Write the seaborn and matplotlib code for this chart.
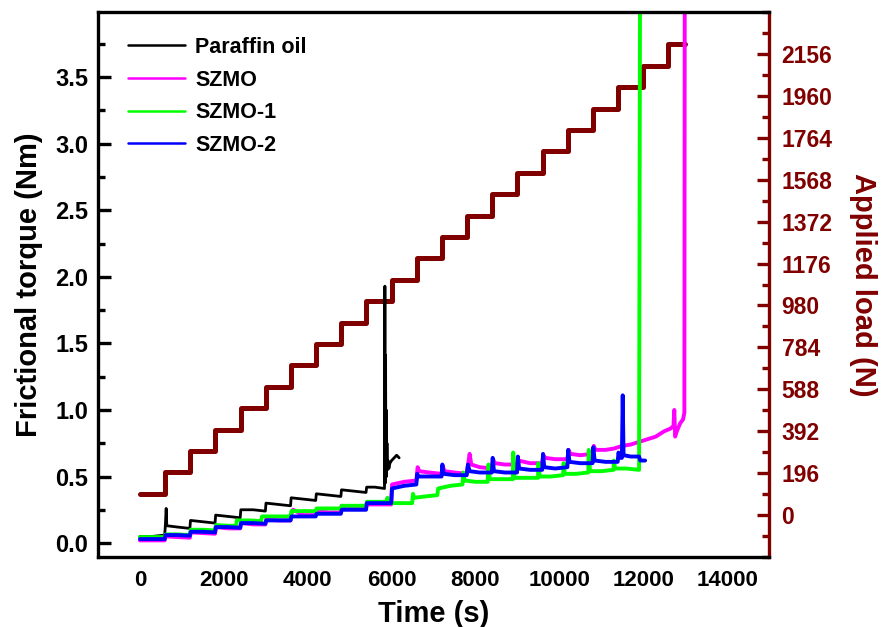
import matplotlib
matplotlib.use("Agg")
import matplotlib.pyplot as plt
import seaborn as sns
import pandas as pd
from matplotlib.ticker import MultipleLocator

sns.set_theme(style="white")
plt.rcParams["font.family"] = ["Liberation Sans", "DejaVu Sans"]
plt.rcParams["font.weight"] = "bold"
plt.rcParams["text.color"] = "black"
plt.rcParams["axes.labelcolor"] = "black"
plt.rcParams["xtick.color"] = "black"
plt.rcParams["ytick.color"] = "black"

# ---- frictional torque traces (time in s, torque in Nm) ----
paraffin_t = [0, 300, 590, 605, 625, 640, 900, 1190, 1205, 1500, 1790, 1805, 2100,
              2390, 2405, 2700, 2990, 3005, 3300, 3590, 3605, 3900, 4190, 4205, 4500,
              4790, 4805, 5100, 5390, 5405, 5600, 5830, 5840, 5848, 5856, 5864, 5872,
              5880, 5890, 5900, 5915, 5935, 5960, 6000, 6060, 6120, 6180]
paraffin_v = [0.05, 0.05, 0.06, 0.13, 0.26, 0.13, 0.12, 0.11, 0.17, 0.16, 0.15, 0.21, 0.20,
              0.19, 0.25, 0.25, 0.24, 0.30, 0.29, 0.28, 0.34, 0.33, 0.32, 0.37, 0.36,
              0.35, 0.40, 0.39, 0.38, 0.42, 0.42, 0.41, 1.93, 0.45, 1.41, 0.55, 1.00,
              0.50, 0.75, 0.55, 0.62, 0.56, 0.60, 0.62, 0.64, 0.66, 0.64]

szmo_t = [0, 300, 590, 610, 900, 1190, 1210, 1500, 1790, 1810, 2100, 2390, 2410, 2700,
          2990, 3010, 3300, 3590, 3610, 3650, 3900, 4190, 4210, 4500, 4790, 4810, 5100,
          5390, 5410, 5700, 5990, 6010, 6300, 6590, 6620, 6660, 6900, 7190, 7220, 7260,
          7500, 7790, 7860, 7900, 8100, 8390, 8420, 8460, 8700, 8990, 9020, 9300, 9590,
          9620, 9660, 9900, 10190, 10220, 10260, 10500, 10790, 10820, 10860, 11100,
          11300, 11500, 11700, 11900, 12100, 12300, 12500, 12650, 12720, 12740, 12760,
          12800, 12880, 12950, 12980, 12990]
szmo_v = [0.02, 0.02, 0.02, 0.05, 0.045, 0.04, 0.08, 0.075, 0.07, 0.12, 0.11, 0.11, 0.15, 0.14,
          0.14, 0.18, 0.17, 0.17, 0.22, 0.25, 0.21, 0.21, 0.24, 0.23, 0.23, 0.28, 0.27,
          0.27, 0.29, 0.29, 0.29, 0.44, 0.46, 0.47, 0.57, 0.54, 0.53, 0.52, 0.58, 0.54,
          0.53, 0.52, 0.67, 0.59, 0.57, 0.56, 0.63, 0.60, 0.59, 0.59, 0.62, 0.60, 0.60,
          0.66, 0.64, 0.63, 0.63, 0.70, 0.67, 0.66, 0.67, 0.73, 0.70, 0.70,
          0.71, 0.73, 0.74, 0.76, 0.78, 0.80, 0.84, 0.86, 0.88, 1.00, 0.80,
          0.84, 0.90, 0.93, 0.98, 4.50]

szmo1_t = [0, 300, 590, 610, 900, 1190, 1210, 1500, 1790, 1810, 2100, 2290, 2310, 2600,
           2890, 2910, 3300, 3590, 3610, 3900, 4190, 4210, 4500, 4790, 4810, 5100, 5390,
           5410, 5700, 5880, 5900, 5940, 6200, 6490, 6510, 6540, 6800, 7090, 7110, 7400,
           7690, 7710, 7740, 8000, 8290, 8310, 8340, 8600, 8890, 8900, 8930, 9200, 9490,
           9500, 9530, 9800, 10090, 10100, 10130, 10400, 10690, 10700, 10730, 11000,
           11290, 11300, 11330, 11600, 11900, 11925]
szmo1_v = [0.045, 0.045, 0.045, 0.065, 0.065, 0.06, 0.10, 0.10, 0.095, 0.135, 0.13, 0.13, 0.17, 0.17,
           0.165, 0.20, 0.20, 0.20, 0.24, 0.24, 0.24, 0.26, 0.26, 0.26, 0.28, 0.28, 0.28,
           0.31, 0.31, 0.31, 0.34, 0.30, 0.30, 0.30, 0.37, 0.34, 0.35, 0.36, 0.41, 0.43,
           0.44, 0.53, 0.47, 0.46, 0.46, 0.59, 0.48, 0.48, 0.48, 0.68, 0.49, 0.49, 0.49,
           0.60, 0.50, 0.50, 0.51, 0.60, 0.52, 0.52, 0.53, 0.70, 0.54, 0.54,
           0.55, 0.62, 0.56, 0.56, 0.55, 4.50]

szmo2_t = [0, 300, 590, 610, 900, 1190, 1210, 1500, 1790, 1810, 2100, 2390, 2410, 2700,
           2990, 3010, 3300, 3590, 3610, 3900, 4190, 4210, 4500, 4790, 4810, 5100, 5390,
           5410, 5700, 5990, 6010, 6300, 6590, 6610, 6640, 6900, 7190, 7210, 7240, 7500,
           7790, 7820, 7860, 8100, 8390, 8410, 8440, 8700, 8990, 9010, 9040, 9300, 9590,
           9610, 9640, 9900, 10190, 10210, 10240, 10500, 10790, 10810, 10840, 11100,
           11390, 11410, 11440, 11490, 11510, 11530, 11700, 11900, 11930, 12045]
szmo2_v = [0.03, 0.03, 0.03, 0.06, 0.06, 0.055, 0.085, 0.085, 0.08, 0.12, 0.12, 0.115, 0.15, 0.15,
           0.145, 0.17, 0.17, 0.17, 0.20, 0.20, 0.20, 0.22, 0.22, 0.22, 0.25, 0.25, 0.25,
           0.30, 0.30, 0.30, 0.41, 0.43, 0.44, 0.52, 0.50, 0.50, 0.50, 0.59, 0.52, 0.51,
           0.51, 0.59, 0.54, 0.53, 0.53, 0.64, 0.54, 0.53, 0.53, 0.65, 0.56, 0.55, 0.55,
           0.67, 0.57, 0.56, 0.57, 0.70, 0.61, 0.60, 0.60, 0.72, 0.62, 0.61,
           0.61, 0.68, 0.64, 0.64, 1.11, 0.66, 0.65, 0.65, 0.62, 0.62]

# ---- applied load program (step starts in s, load in N) ----
load_t = [0, 600, 1200, 1800, 2400, 3000, 3600, 4200, 4800, 5400, 6000, 6600, 7200,
          7800, 8400, 9000, 9600, 10200, 10800, 11400, 12000, 12600, 13000]
load_v = [100, 200, 300, 400, 500, 600, 700, 800, 900, 1000, 1100, 1200, 1300,
          1400, 1500, 1600, 1700, 1800, 1900, 2000, 2100, 2200, 2200]

series = [("Paraffin oil", paraffin_t, paraffin_v, "#000000", 2.0),
          ("SZMO", szmo_t, szmo_v, "#FF00FF", 2.8),
          ("SZMO-1", szmo1_t, szmo1_v, "#00FF00", 2.8),
          ("SZMO-2", szmo2_t, szmo2_v, "#0000FF", 2.8)]

dark_red = "#800000"

fig = plt.figure(figsize=(8.83, 6.27), dpi=100)
ax = fig.add_axes([0.111, 0.1116, 0.760, 0.8693])
ax2 = ax.twinx()

# load staircase on the right axis
load_df = pd.DataFrame({"t": load_t, "load": load_v})
sns.lineplot(data=load_df, x="t", y="load", ax=ax2, color=dark_red, lw=3.6,
             drawstyle="steps-post", estimator=None, sort=False, legend=False)

# torque traces on the left axis
for name, t, v, c, lw in series:
    df = pd.DataFrame({"t": t, "torque": v})
    sns.lineplot(data=df, x="t", y="torque", ax=ax, color=c, lw=lw,
                 estimator=None, sort=False, label=name)

ax.set_zorder(ax2.get_zorder() + 1)
ax.patch.set_visible(False)

ax.set_xlim(-1000, 15000)
ax.set_ylim(-0.105, 3.99)
ax2.set_ylim(-196, 2352)

ax.xaxis.set_major_locator(MultipleLocator(2000))
ax.xaxis.set_minor_locator(MultipleLocator(1000))
ax.yaxis.set_major_locator(MultipleLocator(0.5))
ax.yaxis.set_minor_locator(MultipleLocator(0.25))
ax2.set_yticks([196 * i for i in range(12)])
ax2.yaxis.set_minor_locator(MultipleLocator(98))

ax.tick_params(axis="both", which="major", direction="in", length=9, width=2.4,
               labelsize=17, pad=7, color="black")
ax.tick_params(axis="both", which="minor", direction="in", length=5, width=2.4, color="black")
ax.tick_params(axis="x", labelsize=16, pad=9)
ax.tick_params(top=False, which="both")
ax2.tick_params(axis="y", which="major", direction="in", length=9, width=2.4,
                labelsize=16.5, pad=9, color=dark_red, labelcolor=dark_red)
ax2.tick_params(axis="y", which="minor", direction="in", length=5, width=2.4, color=dark_red)

for s in ["left", "bottom", "top"]:
    ax.spines[s].set_linewidth(2.4)
    ax.spines[s].set_color("black")
ax.spines["right"].set_visible(False)
for s in ["left", "bottom", "top"]:
    ax2.spines[s].set_visible(False)
ax2.spines["right"].set_linewidth(2.4)
ax2.spines["right"].set_color(dark_red)

ax.set_xlabel("Time (s)", fontsize=21, fontweight="bold", labelpad=7)
ax.set_ylabel("Frictional torque (Nm)", fontsize=21, fontweight="bold", labelpad=9)
ax2.set_ylabel("Applied load (N)", fontsize=21, fontweight="bold", color=dark_red,
               rotation=270, labelpad=32)

leg = ax.legend(loc="upper left", frameon=False, fontsize=15.5, handlelength=2.65,
                labelspacing=0.54, borderaxespad=0.0, bbox_to_anchor=(0.0325, 0.97),
                handletextpad=0.45)
for txt in leg.get_texts():
    txt.set_fontweight("bold")
for h in leg.get_lines():
    h.set_linewidth(1.8)

fig.savefig("out.png", dpi=100, facecolor="white")
